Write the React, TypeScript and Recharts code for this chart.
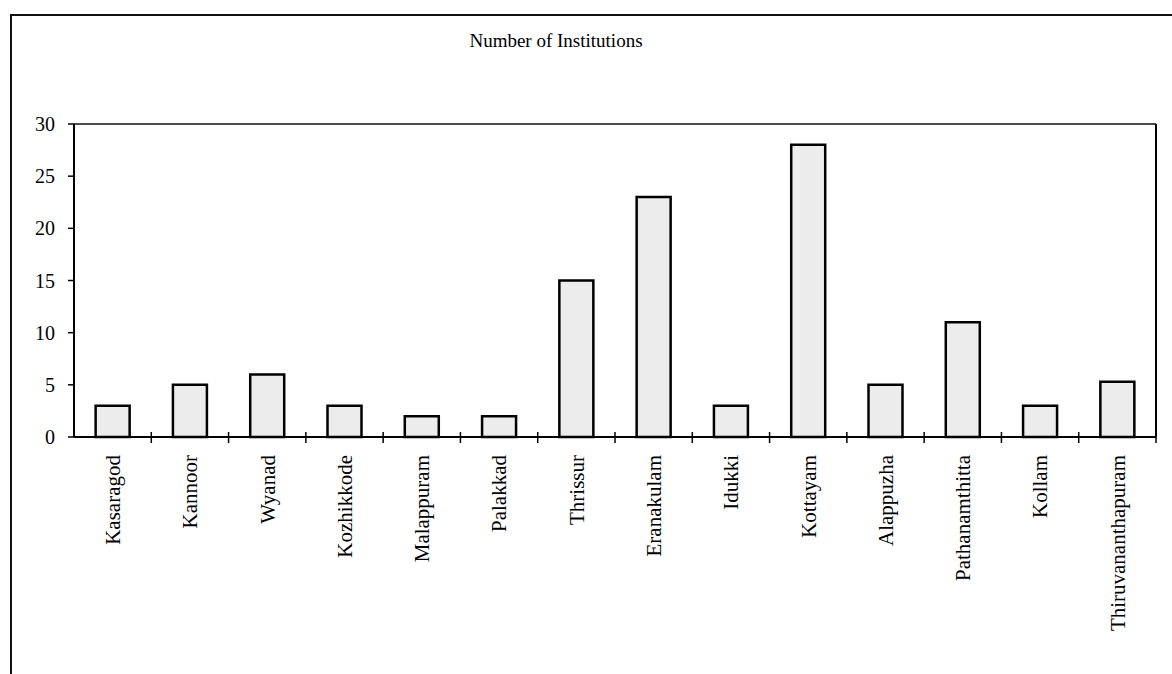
import React from "react";
import { BarChart, Bar, XAxis, YAxis, CartesianGrid } from "recharts";

const districts = [
  "Kasaragod",
  "Kannoor",
  "Wyanad",
  "Kozhikkode",
  "Malappuram",
  "Palakkad",
  "Thrissur",
  "Eranakulam",
  "Idukki",
  "Kottayam",
  "Alappuzha",
  "Pathanamthitta",
  "Kollam",
  "Thiruvananthapuram",
];
const institutions = [3, 5, 6, 3, 2, 2, 15, 23, 3, 28, 5, 11, 3, 5.3];
const yTicks = [0, 5, 10, 15, 20, 25, 30];
const title = "Number of Institutions";

const data = districts.map((name, i) => ({ name, value: institutions[i] }));

const W = 1172;
const H = 674;
const PLOT_LEFT = 74;
const PLOT_RIGHT = 1157;
const PLOT_TOP = 124;
const PLOT_BOTTOM = 437;
const Y_AXIS_W = 60;
const X_AXIS_H = 200;
const FONT = "'Liberation Serif', 'Times New Roman', serif";

const XTick = (props: any) => {
  const { x, y, payload } = props;
  const off =
    payload && typeof payload.offset === "number" && payload.offset > 0
      ? payload.offset
      : (PLOT_RIGHT - PLOT_LEFT) / districts.length / 2;
  return (
    <g>
      <line x1={x + off} x2={x + off} y1={y - 5} y2={y + 6} stroke="#000" strokeWidth={1.5} />
      <text
        transform={`translate(${x},${y + 18}) rotate(-90)`}
        textAnchor="end"
        dy="0.35em"
        fontFamily={FONT}
        fontSize={21}
        fill="#000"
      >
        {payload.value}
      </text>
    </g>
  );
};

export default function App() {
  return (
    <div style={{ position: "absolute", left: 0, top: 0, width: W, height: H, background: "#fff" }}>
      <div
        style={{
          position: "absolute",
          left: 10,
          top: 14,
          width: W - 10,
          height: H - 14,
          borderLeft: "2px solid #111",
          borderTop: "2px solid #111",
          boxSizing: "border-box",
        }}
      />
      <div
        style={{
          position: "absolute",
          left: 556 - 150,
          width: 300,
          top: 29,
          textAlign: "center",
          fontFamily: FONT,
          fontSize: 19,
          color: "#000",
          lineHeight: "24px",
        }}
      >
        {title}
      </div>
      <div style={{ position: "absolute", left: 0, top: 0 }}>
        <BarChart
          width={W}
          height={H}
          data={data}
          margin={{
            top: PLOT_TOP,
            left: PLOT_LEFT - Y_AXIS_W,
            right: W - PLOT_RIGHT,
            bottom: H - PLOT_BOTTOM - X_AXIS_H,
          }}
          barCategoryGap="28%"
        >
          <CartesianGrid vertical={false} stroke="#111" strokeWidth={1.3} />
          <XAxis
            dataKey="name"
            interval={0}
            height={X_AXIS_H}
            tickSize={0}
            tickMargin={0}
            tickLine={false}
            axisLine={{ stroke: "#000", strokeWidth: 2 }}
            tick={<XTick />}
          />
          <YAxis
            yAxisId="left"
            width={Y_AXIS_W}
            domain={[0, 30]}
            ticks={yTicks}
            interval={0}
            tickSize={6}
            tickMargin={13}
            axisLine={{ stroke: "#000", strokeWidth: 2 }}
            tickLine={{ stroke: "#000", strokeWidth: 1.5 }}
            tick={{ fontFamily: FONT, fontSize: 20, fill: "#000" }}
          />
          <YAxis
            yAxisId="right"
            orientation="right"
            width={1}
            domain={[0, 30]}
            tick={false}
            tickLine={false}
            axisLine={{ stroke: "#000", strokeWidth: 2 }}
          />
          <Bar
            yAxisId="left"
            dataKey="value"
            fill="#ececec"
            stroke="#000"
            strokeWidth={2.5}
            isAnimationActive={false}
          />
        </BarChart>
      </div>
    </div>
  );
}
